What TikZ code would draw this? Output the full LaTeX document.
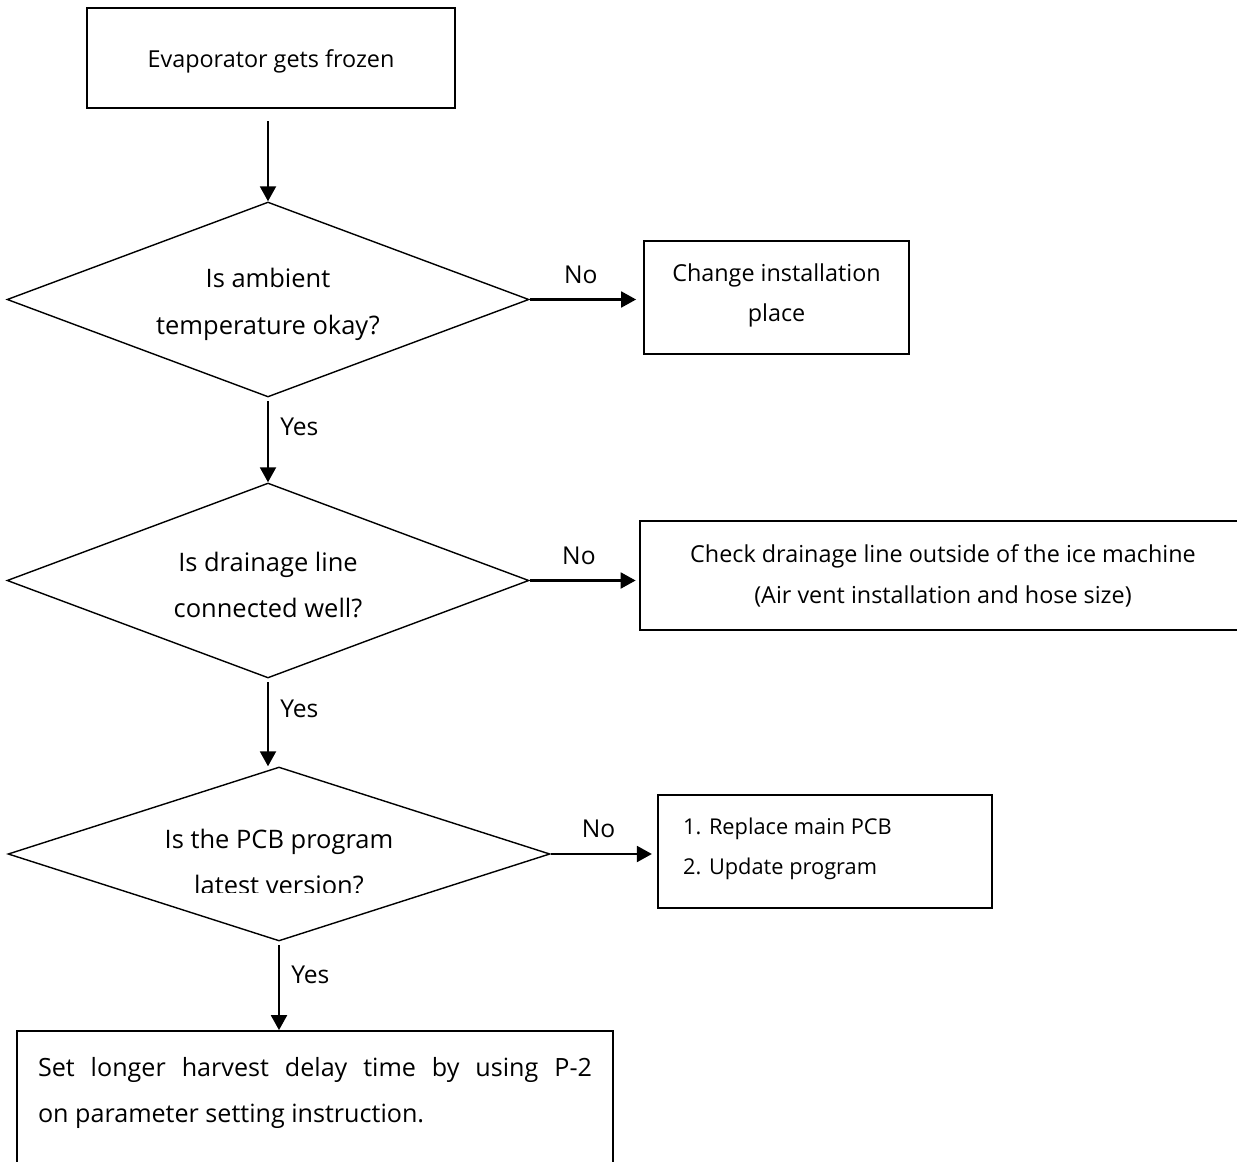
\documentclass[tikz,border=0pt]{standalone}
\usepackage{fontspec}
\setmainfont{Open Sans}
\usetikzlibrary{arrows.meta, positioning, calc, shapes.geometric}

\begin{document}
\begin{tikzpicture}[
    x=0.02cm, y=-0.02cm,
    myarrow/.style={-{Triangle[length=8.5pt, width=9pt]}, line width=1.4pt},
    box/.style={draw, line width=1pt, inner sep=0pt},
    decision/.style={draw, diamond, line width=0.8pt, inner sep=0pt},
    qtext/.style={font=\fontsize{14.5}{26.5}\selectfont, align=center},
    btext/.style={font=\fontsize{13.3}{23.2}\selectfont, align=center},
    lbl/.style={font=\fontsize{14}{16}\selectfont},
]

\useasboundingbox (0,0) rectangle (1237,1162);
\clip (0,0) rectangle (1237,1162);

% ===================== START =====================
\node[box, minimum width=7.36cm, minimum height=2cm] (start) at (271,58) {};
\node[btext] at (271,61) {Evaporator gets frozen};

% ===================== DECISION 1 =====================
\node[decision, minimum width=10.44cm, minimum height=3.9cm] (amb) at (268,299.5) {};
\node[qtext] at (268,304.5) {Is ambient\\temperature okay?};

\node[box, minimum width=5.3cm, minimum height=2.26cm] (place) at (776.5,297.5) {};
\node[btext] at (776.5,295.5) {Change installation\\place};

% ===================== DECISION 2 =====================
\node[decision, minimum width=10.44cm, minimum height=3.9cm] (drain) at (268,580.5) {};
\node[qtext] at (268,585) {Is drainage line\\connected well?};

\node[box, minimum width=12.12cm, minimum height=2.18cm] (hose) at (943,575.5) {};
\node[btext] at (943,576) {Check drainage line outside of the ice machine\\(Air vent installation and hose size)};

% ===================== DECISION 3 =====================
\node[decision, minimum width=10.84cm, minimum height=3.48cm] (pcb) at (279,854) {};
\begin{scope}
    \clip (0,760) rectangle (560,892);
    \node[qtext] at (279,862) {Is the PCB program\\latest version?};
\end{scope}

\node[box, minimum width=6.68cm, minimum height=2.26cm] (repl) at (825,851.5) {};
\node[font=\fontsize{12.4}{22.6}\selectfont, anchor=west, align=left] at (677,849) {1. Replace main PCB\\2. Update program};

% ===================== ACTION =====================
\node[box, minimum width=11.92cm, minimum height=3.2cm] (delay) at (315,1111) {};
\node[font=\fontsize{14.3}{26}\selectfont, text width=11.08cm, align=justify, inner sep=0pt]
    at (315,1093) {Set longer harvest delay time by using P-2\linebreak on parameter setting instruction.};

% ===================== ARROWS =====================
\draw[myarrow, shorten <=7pt] (start.south -| amb.north) -- (amb.north);

\draw[myarrow, shorten >=4pt] (amb.east) -- (amb.east -| place.west)
    node[lbl, pos=0.45, above=5pt] {No};
\draw[myarrow, shorten <=2pt] (amb.south) -- (drain.north)
    node[lbl, pos=0.34, right=3pt] {Yes};

\draw[myarrow, shorten >=2pt] (drain.east) -- (drain.east -| hose.west)
    node[lbl, pos=0.45, above=5pt] {No};
\draw[myarrow, shorten <=2pt] (drain.south) -- (drain.south |- pcb.north)
    node[lbl, pos=0.34, right=3pt] {Yes};

\draw[myarrow, shorten >=3pt] (pcb.east) -- (pcb.east -| repl.west)
    node[lbl, pos=0.45, above=5pt] {No};
\draw[myarrow, shorten <=2pt] (pcb.south) -- (pcb.south |- delay.north)
    node[lbl, pos=0.38, right=3pt] {Yes};

\end{tikzpicture}
\end{document}
